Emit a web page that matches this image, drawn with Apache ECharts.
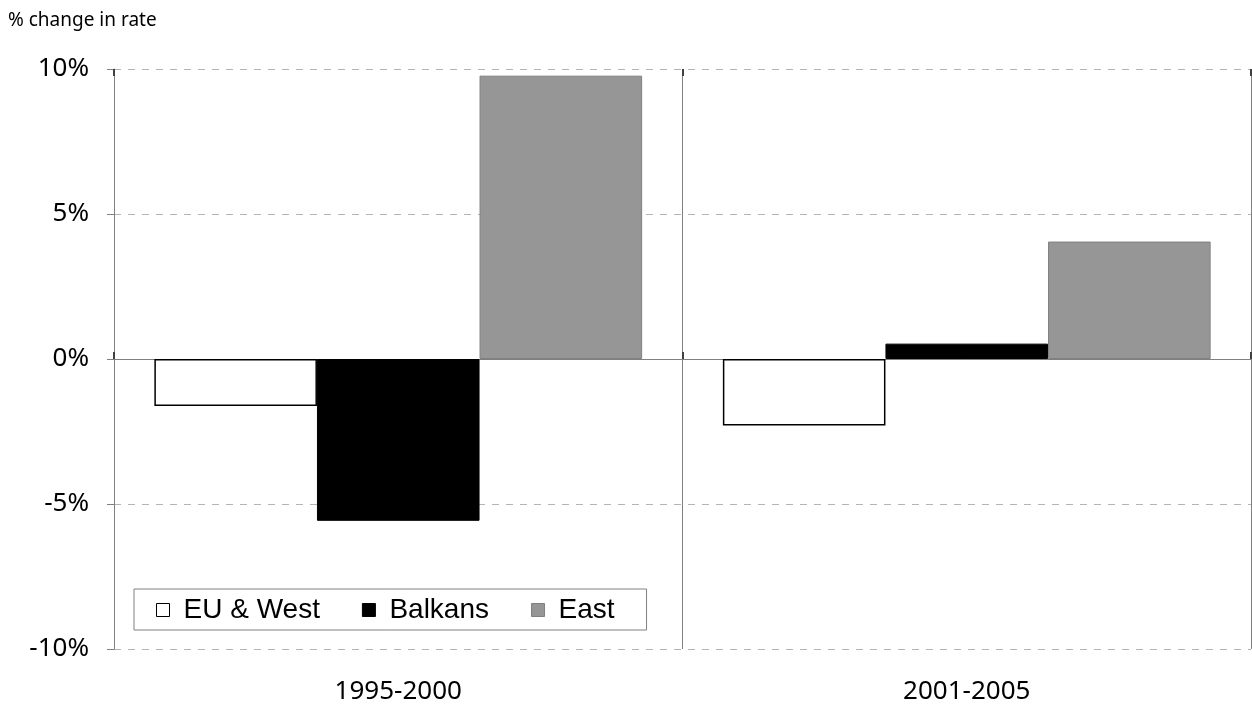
<!DOCTYPE html>
<html>
<head>
<meta charset="utf-8">
<script src="https://cdn.jsdelivr.net/npm/echarts@6/dist/echarts.min.js"></script>
<style>html,body{margin:0;padding:0;background:#fff}#c{width:1252px;height:705px}</style>
</head>
<body>
<div id="c"></div>
<script>
var categories = ['1995-2000', '2001-2005'];
var euWest = [-1.62, -2.29];
var balkans = [-5.58, 0.53];
var east = [9.77, 4.05];
var seriesNames = ['EU & West', 'Balkans', 'East'];
var yTicks = [-10, -5, 0, 5, 10];

var chart = echarts.init(document.getElementById('c'));
var FONT = 'Noto Sans';
var grid = { left: 114, right: 1, top: 69, bottom: 55 };
var option = {
  animation: false,
  textStyle: { fontFamily: FONT },
  graphic: [{
    type: 'text', left: 8, top: 11,
    style: { text: '% change in rate', font: '19px "Noto Sans"', fill: '#000' }
  }],
  legend: {
    left: 134, top: 589,
    backgroundColor: '#fff',
    borderColor: '#808080', borderWidth: 1,
    padding: [7, 32, 6, 22],
    itemGap: 42,
    itemWidth: 13, itemHeight: 13,
    icon: 'rect',
    textStyle: { fontFamily: 'Liberation Sans', fontSize: 28, color: '#000', padding: [0, 0, 0, 9] },
    data: [
      { name: seriesNames[0], itemStyle: { color: '#fff', borderColor: '#000', borderWidth: 1 } },
      { name: seriesNames[1], itemStyle: { color: '#000', borderColor: '#000', borderWidth: 1 } },
      { name: seriesNames[2], itemStyle: { color: '#969696', borderColor: '#808080', borderWidth: 1 } }
    ]
  },
  grid: grid,
  xAxis: [{
    type: 'category', data: categories, position: 'bottom',
    axisLine: { onZero: false, show: false },
    axisTick: { show: false },
    axisLabel: { fontSize: 26, color: '#000', margin: 30, fontFamily: FONT },
    splitLine: { show: true, lineStyle: { color: '#808080', width: 1 } }
  }, {
    type: 'category', data: categories,
    axisLine: { onZero: true, lineStyle: { color: '#808080', width: 1 } },
    axisTick: { show: true, length: 7, lineStyle: { color: '#404040', width: 2 } },
    axisLabel: { show: false },
    splitLine: { show: false }
  }, {
    type: 'category', data: categories,
    axisLine: { onZero: true, show: false },
    axisTick: { show: true, inside: true, length: 7, lineStyle: { color: '#404040', width: 2 } },
    axisLabel: { show: false },
    splitLine: { show: false }
  }],
  yAxis: {
    type: 'value', min: -10, max: 10, interval: 5,
    axisLine: { show: true, lineStyle: { color: '#808080', width: 1 } },
    axisTick: { show: true, length: 7, lineStyle: { color: '#808080' } },
    axisLabel: {
      fontSize: 26, color: '#000', margin: 25, fontFamily: FONT,
      formatter: function (v) { return yTicks.indexOf(v) >= 0 ? v + '%' : ''; }
    },
    splitLine: { show: true, lineStyle: { color: '#b4b4b4', type: [7, 7], width: 1 } }
  },
  series: [{
    name: seriesNames[0], type: 'bar', data: euWest, xAxisIndex: 0,
    barGap: '0%', barCategoryGap: '14.2%',
    itemStyle: { color: '#fff', borderColor: '#000', borderWidth: 1.5 }
  }, {
    name: seriesNames[1], type: 'bar', data: balkans, xAxisIndex: 0,
    barGap: '0%', barCategoryGap: '14.2%',
    itemStyle: { color: '#000', borderColor: '#000', borderWidth: 1 }
  }, {
    name: seriesNames[2], type: 'bar', data: east, xAxisIndex: 0,
    barGap: '0%', barCategoryGap: '14.2%',
    itemStyle: { color: '#969696', borderColor: '#808080', borderWidth: 1 }
  }]
};
chart.setOption(option);
</script>
</body>
</html>
